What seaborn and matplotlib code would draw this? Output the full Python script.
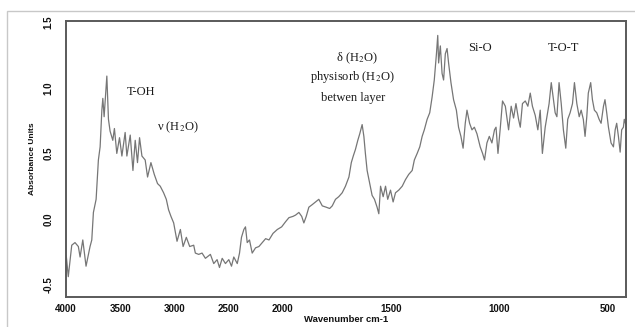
import numpy as np
import matplotlib
matplotlib.use("Agg")
import matplotlib.pyplot as plt
from matplotlib.patches import Rectangle
import seaborn as sns

# ---- data ----
wavenumber = [3998, 3994, 3979, 3947, 3917, 3886, 3870, 3845, 3815, 3778, 3762, 3747, 3722,
              3701, 3685, 3669, 3660, 3648, 3632, 3623, 3608, 3593, 3568, 3553, 3531, 3506,
              3484, 3454, 3438, 3407, 3382, 3361, 3340, 3321, 3299, 3269, 3247, 3216, 3185,
              3155, 3130, 3099, 3074, 3053, 3031, 3006, 2975, 2944, 2919, 2889, 2858, 2821,
              2806, 2775, 2744, 2713, 2667, 2636, 2605, 2583, 2558, 2528, 2497, 2472, 2451,
              2419, 2398, 2380, 2358, 2343, 2327, 2306, 2281, 2250, 2219, 2188, 2157, 2126,
              2089, 2049, 2009, 1986, 1971, 1952, 1940, 1925, 1912, 1902, 1891, 1879, 1863,
              1848, 1833, 1817, 1799, 1783, 1771, 1756, 1741, 1725, 1710, 1694, 1683, 1674,
              1664, 1653, 1644, 1633, 1625, 1618, 1610, 1598, 1587, 1576, 1564, 1556, 1548,
              1536, 1525, 1515, 1502, 1490, 1479, 1464, 1448, 1433, 1418, 1402, 1392, 1379,
              1367, 1356, 1346, 1333, 1321, 1310, 1300, 1290, 1284, 1280, 1272, 1264, 1257,
              1249, 1241, 1234, 1223, 1211, 1198, 1188, 1177, 1167, 1157, 1149, 1137, 1126,
              1115, 1103, 1088, 1077, 1068, 1057, 1046, 1034, 1022, 1015, 1006, 995, 985,
              972, 957, 945, 934, 923, 911, 903, 893, 880, 868, 857, 847, 834, 822, 811,
              801, 788, 777, 770, 760, 750, 742, 734, 724, 714, 704, 693, 684, 673, 662,
              653, 642, 631, 622, 612, 604, 596, 589, 578, 570, 561, 550, 539, 530, 519,
              512, 504, 496, 484, 473, 465, 458, 450, 442, 435, 427, 423, 416]
absorbance = [-0.28, -0.31, -0.44, -0.20, -0.18, -0.21, -0.29, -0.16, -0.36, -0.21, -0.16, 0.05, 0.15,
              0.45, 0.55, 0.83, 0.92, 0.78, 0.98, 1.09, 0.76, 0.67, 0.60, 0.69, 0.50, 0.62,
              0.48, 0.66, 0.48, 0.64, 0.37, 0.60, 0.43, 0.62, 0.48, 0.45, 0.32, 0.43, 0.34,
              0.27, 0.25, 0.20, 0.15, 0.07, 0.02, -0.03, -0.17, -0.08, -0.21, -0.14, -0.21, -0.20,
              -0.26, -0.27, -0.26, -0.30, -0.27, -0.34, -0.31, -0.37, -0.30, -0.34, -0.31, -0.36, -0.29,
              -0.34, -0.26, -0.14, -0.08, -0.06, -0.18, -0.16, -0.26, -0.22, -0.21, -0.18, -0.15, -0.16,
              -0.11, -0.08, -0.06, -0.02, 0.01, 0.02, 0.03, 0.05, 0.02, -0.03, 0.02, 0.09, 0.11,
              0.13, 0.15, 0.10, 0.09, 0.08, 0.10, 0.15, 0.17, 0.20, 0.25, 0.32, 0.43, 0.48,
              0.53, 0.60, 0.65, 0.72, 0.63, 0.50, 0.37, 0.27, 0.18, 0.15, 0.09, 0.04, 0.25,
              0.17, 0.25, 0.15, 0.22, 0.13, 0.20, 0.22, 0.25, 0.30, 0.34, 0.37, 0.45, 0.50,
              0.55, 0.63, 0.68, 0.76, 0.81, 0.93, 1.06, 1.26, 1.40, 1.19, 1.32, 1.11, 1.06,
              1.26, 1.30, 1.19, 1.04, 0.91, 0.83, 0.70, 0.63, 0.54, 0.73, 0.83, 0.73, 0.68,
              0.70, 0.65, 0.55, 0.50, 0.45, 0.58, 0.63, 0.58, 0.68, 0.70, 0.50, 0.70, 0.90,
              0.86, 0.68, 0.86, 0.77, 0.88, 0.76, 0.70, 0.88, 0.90, 0.86, 0.96, 0.86, 0.79, 0.68, 0.83,
              0.50, 0.70, 0.81, 0.88, 1.04, 0.91, 0.81, 0.78, 1.04, 0.88, 0.68, 0.54, 0.76, 0.81, 0.88,
              1.04, 0.88, 0.78, 0.83, 0.76, 0.63, 0.78, 0.96, 1.04, 0.91, 0.83, 0.81, 0.76, 0.73, 0.86,
              0.91, 0.81, 0.70, 0.58, 0.55, 0.68, 0.73, 0.63, 0.51, 0.68, 0.70, 0.76, 0.72]

x_ticks = [4000, 3500, 3000, 2500, 2000, 1500, 1000, 500]
y_ticks = [1.5, 1.0, 0.5, 0.0, -0.5]
x_label = "Wavenumber cm-1"
y_label = "Absorbance Units"
band_labels = ["T-OH", "ν (H$_2$O)", "δ (H$_2$O)", "physisorb (H$_2$O)", "betwen layer", "Si-O", "T-O-T"]
band_pos = [(0.134, 0.743), (0.199, 0.616), (0.520, 0.866), (0.511, 0.797),
            (0.5125, 0.721), (0.739, 0.902), (0.888, 0.902)]

# ---- style ----
sns.set_style("white")
plt.rcParams["font.family"] = ["Liberation Sans", "DejaVu Sans"]
plt.rcParams["mathtext.fontset"] = "stix"

fig = plt.figure(figsize=(6.35, 3.27), dpi=100)
ax = fig.add_axes([66/635, 30/327, 560/635, 276/327])

sns.lineplot(x=wavenumber, y=absorbance, ax=ax, sort=False, estimator=None,
             color="#767676", lw=0.9)


def fwd(w):
    w = np.asarray(w, dtype=float)
    return np.where(w > 2000, 2000 + (w - 2000) / 2.0, w)


def inv(u):
    u = np.asarray(u, dtype=float)
    return np.where(u > 2000, 2000 + (u - 2000) * 2.0, u)


ax.set_xscale("function", functions=(fwd, inv))
ax.set_xlim(4000, 415)
ax.set_ylim(-0.595, 1.51)
ax.set_xticks(x_ticks)
ax.set_xticklabels([str(t) for t in x_ticks])
ax.set_yticks(y_ticks)
ax.set_yticklabels([f"{t:.1f}" for t in y_ticks])
ax.minorticks_off()

for s in ax.spines.values():
    s.set_color("#5a5a5a")
    s.set_linewidth(1.4)

ax.tick_params(axis="both", direction="out", length=4, width=0.8, color="#5a5a5a",
               labelsize=7, labelcolor="#111111")
ax.tick_params(axis="x", pad=1)
ax.tick_params(axis="y", pad=5)
for lab in ax.get_yticklabels():
    lab.set_rotation(90)
    lab.set_va("center")
    lab.set_ha("right")
    lab.set_fontweight("bold")
for lab in ax.get_xticklabels():
    lab.set_fontweight("bold")

ax.set_xlabel(x_label, fontsize=6.8, fontweight="bold", color="#111111")
ax.set_ylabel(y_label, fontsize=6.0, fontweight="bold", color="#111111")
ax.xaxis.set_label_coords(0.5, -0.065)
ax.yaxis.set_label_coords(-0.053, 0.5)

for txt, (px, py) in zip(band_labels, band_pos):
    ax.text(px, py, txt, transform=ax.transAxes, ha="center", va="center",
            fontsize=9, color="#1a1a1a", family=["Liberation Serif", "DejaVu Serif"])

fig.add_artist(Rectangle((7/635, -0.1), 1.2, 1.1 - 11/327, transform=fig.transFigure,
                         fill=False, ec="#c8c8c8", lw=1.0))

fig.savefig("out.png", dpi=100)
